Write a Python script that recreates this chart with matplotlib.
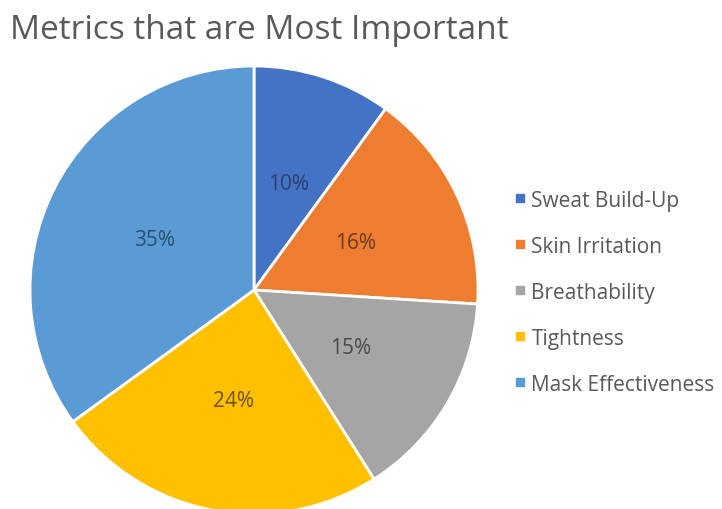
import matplotlib.pyplot as plt
from matplotlib.lines import Line2D

categories = ["Sweat Build-Up", "Skin Irritation", "Breathability", "Tightness", "Mask Effectiveness"]
shares = [10, 16, 15, 24, 35]
colors = ["#4472C4", "#ED7D31", "#A5A5A5", "#FFC000", "#5B9BD5"]
label_colors = ["#2E3F6B", "#6B3A1A", "#4A4A4A", "#6B5210", "#2E4F70"]

plt.rcParams["font.family"] = ["Open Sans", "DejaVu Sans"]

fig = plt.figure(figsize=(7.22, 5.1), dpi=100)
# pie centre ~ (254, 291) px, radius ~224 px
ax = fig.add_axes([30 / 722, (510 - 291 - 224) / 510, 448 / 722, 448 / 510])

wedges, texts, autotexts = ax.pie(
    shares,
    colors=colors,
    startangle=90,
    counterclock=False,
    autopct="%1.0f%%",
    pctdistance=0.5,
    wedgeprops=dict(edgecolor="white", linewidth=2),
    textprops=dict(fontsize=15),
)
for t, c in zip(autotexts, label_colors):
    t.set_color(c)
ax.set_xlim(-1, 1)
ax.set_ylim(-1, 1)
ax.set_aspect("equal")

fig.text(0.014, 0.94, "Metrics that are Most Important", fontsize=24,
         color="#595959", ha="left", va="center")

handles = [Line2D([], [], marker="s", linestyle="", markersize=6,
                  markerfacecolor=c, markeredgecolor=c) for c in colors]
fig.legend(handles, categories, loc="center left", bbox_to_anchor=(0.687, 0.425),
           frameon=False, fontsize=15, labelcolor="#595959",
           handlelength=0.5, handletextpad=0.3, labelspacing=1.2)

fig.savefig("out.png", dpi=100)
